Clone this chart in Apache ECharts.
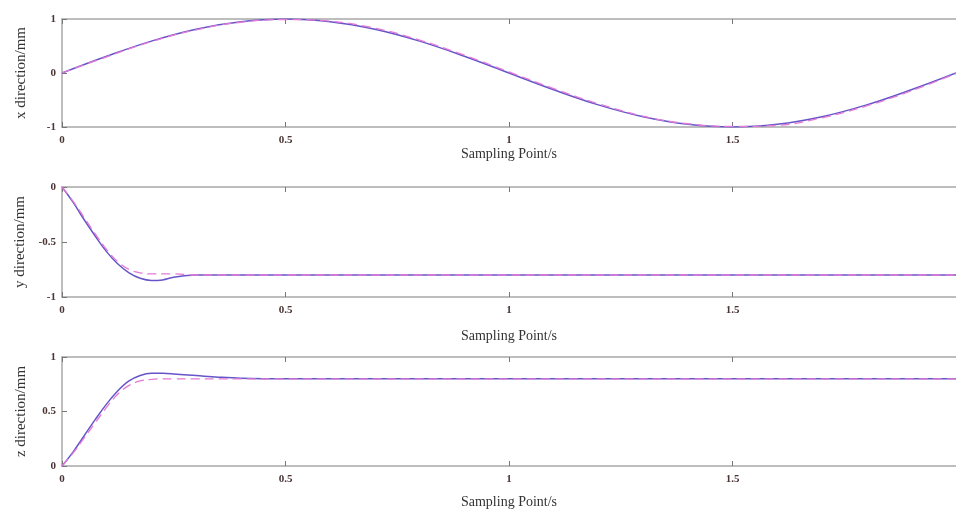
<!DOCTYPE html>
<html>
<head>
<meta charset="utf-8">
<script src="https://cdn.jsdelivr.net/npm/echarts@6/dist/echarts.min.js"></script>
<style>
  html, body { margin: 0; padding: 0; background: #fff; }
  #chart { width: 956px; height: 513px; }
</style>
</head>
<body>
<div id="chart"></div>
<script>
// sampling times (s)
var tX = [0, 0.1, 0.2, 0.3, 0.4, 0.5, 0.6, 0.7, 0.8, 0.9, 1.0, 1.1, 1.2, 1.3, 1.4, 1.5, 1.6, 1.7, 1.8, 1.9, 2.0];
var xSolid = [0, 0.31, 0.59, 0.81, 0.95, 1.0, 0.95, 0.81, 0.59, 0.31, 0, -0.31, -0.59, -0.81, -0.95, -1.0, -0.95, -0.81, -0.59, -0.31, 0];
var xDash = [0, 0.30, 0.58, 0.80, 0.94, 0.99, 0.96, 0.83, 0.61, 0.33, 0.02, -0.29, -0.57, -0.80, -0.94, -0.99, -0.97, -0.83, -0.61, -0.33, -0.01];

var tYZ = [0, 0.025, 0.05, 0.075, 0.1, 0.125, 0.15, 0.175, 0.2, 0.225, 0.25, 0.3, 0.35, 0.4, 0.5, 1.0, 1.5, 2.0];
var ySolid = [0, -0.14, -0.30, -0.45, -0.59, -0.70, -0.78, -0.83, -0.85, -0.845, -0.82, -0.80, -0.80, -0.80, -0.80, -0.80, -0.80, -0.80];
var yDash = [0, -0.13, -0.28, -0.43, -0.57, -0.68, -0.75, -0.78, -0.79, -0.79, -0.79, -0.80, -0.80, -0.80, -0.80, -0.80, -0.80, -0.80];
var zSolid = [0, 0.13, 0.28, 0.43, 0.57, 0.69, 0.78, 0.83, 0.85, 0.85, 0.845, 0.83, 0.815, 0.805, 0.80, 0.80, 0.80, 0.80];
var zDash = [0, 0.12, 0.26, 0.40, 0.54, 0.66, 0.74, 0.78, 0.795, 0.80, 0.80, 0.80, 0.80, 0.80, 0.80, 0.80, 0.80, 0.80];

var yNames = ['x direction/mm', 'y direction/mm', 'z direction/mm'];
var yRanges = [[-1, 1, 1], [-1, 0, 0.5], [0, 1, 0.5]];
var xName = 'Sampling Point/s';

var chart = echarts.init(document.getElementById('chart'));

var serif = 'Liberation Serif';
var lineGray = '#a8a8a8';
var labelColor = '#4a3434';
var solidColor = '#6655c8';
var dashColor = '#e27ad6';

function pairs(t, v) {
    var out = [];
    for (var i = 0; i < t.length; i++) out.push([t[i], v[i]]);
    return out;
}

var grids = [
    {left: 62, right: 0, top: 19, height: 108},
    {left: 62, right: 0, top: 187, height: 110},
    {left: 62, right: 0, top: 357, height: 109}
];
var nameGaps = [20, 32, 29];

var xAxes = [], yAxes = [], series = [];
for (var g = 0; g < 3; g++) {
    // bottom axis with labels
    xAxes.push({
        type: 'value', gridIndex: g, position: 'bottom', min: 0, max: 2, interval: 0.5,
        name: xName, nameLocation: 'middle', nameGap: nameGaps[g],
        nameTextStyle: {fontFamily: serif, fontSize: 14, color: '#333'},
        axisLine: {onZero: false, lineStyle: {color: lineGray, width: 1.5}},
        axisTick: {inside: true, length: 5, lineStyle: {color: '#777'}},
        axisLabel: {fontFamily: serif, fontSize: 11, fontWeight: 'bold', color: labelColor, margin: 8, showMaxLabel: false},
        splitLine: {show: false}
    });
    // top frame line
    xAxes.push({
        type: 'value', gridIndex: g, position: 'top', min: 0, max: 2, interval: 0.5,
        axisLine: {onZero: false, lineStyle: {color: lineGray, width: 1.5}},
        axisTick: {inside: true, length: 5, lineStyle: {color: '#777'}},
        axisLabel: {show: false},
        splitLine: {show: false}
    });
    yAxes.push({
        type: 'value', gridIndex: g, min: yRanges[g][0], max: yRanges[g][1], interval: yRanges[g][2],
        name: yNames[g], nameLocation: 'middle', nameGap: 33, nameRotate: 90,
        nameTextStyle: {fontFamily: serif, fontSize: 15, color: '#333'},
        axisLine: {show: true, onZero: false, lineStyle: {color: lineGray, width: 1.5}},
        axisTick: {inside: true, length: 5, lineStyle: {color: '#777'}},
        axisLabel: {fontFamily: serif, fontSize: 11, fontWeight: 'bold', color: labelColor, margin: 6},
        splitLine: {show: false}
    });
}

var data = [
    [pairs(tX, xSolid), pairs(tX, xDash)],
    [pairs(tYZ, ySolid), pairs(tYZ, yDash)],
    [pairs(tYZ, zSolid), pairs(tYZ, zDash)]
];

for (var k = 0; k < 3; k++) {
    series.push({
        type: 'line', xAxisIndex: k * 2, yAxisIndex: k, data: data[k][0],
        smooth: 0.4, showSymbol: false, animation: false,
        lineStyle: {color: solidColor, width: 1.5}
    });
    series.push({
        type: 'line', xAxisIndex: k * 2, yAxisIndex: k, data: data[k][1],
        smooth: 0.4, showSymbol: false, animation: false,
        lineStyle: {color: dashColor, width: 1.3, type: [9, 5]}
    });
}

chart.setOption({
    backgroundColor: '#fff',
    animation: false,
    grid: grids,
    xAxis: xAxes,
    yAxis: yAxes,
    series: series
});
</script>
</body>
</html>
